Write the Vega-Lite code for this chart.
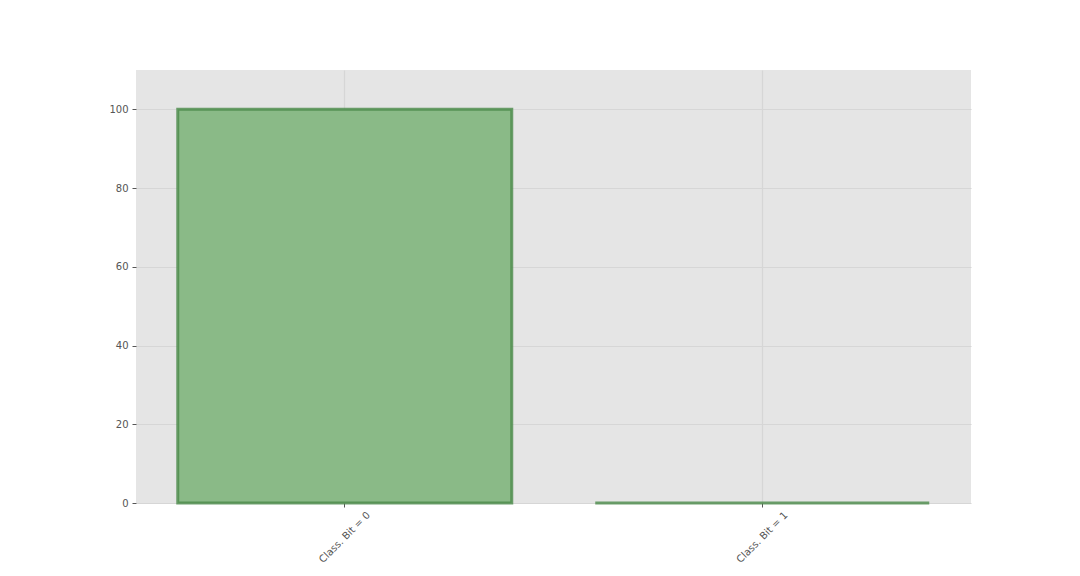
{
  "$schema": "https://vega.github.io/schema/vega-lite/v6.json",
  "autosize": "none",
  "padding": {"left": 136, "top": 70, "right": 109, "bottom": 73},
  "width": 835,
  "height": 433,
  "background": "white",
  "config": {
    "view": {"fill": "#e5e5e5", "stroke": null},
    "axis": {
      "labelFont": "DejaVu Sans",
      "labelFontSize": 10,
      "labelColor": "#555555",
      "tickColor": "#555555",
      "tickSize": 4,
      "domain": false,
      "gridColor": "#d6d6d6",
      "gridWidth": 1.2,
      "title": null
    }
  },
  "data": {
    "values": [
      {"label": "Class. Bit = 0", "count": 100},
      {"label": "Class. Bit = 1", "count": 0}
    ]
  },
  "mark": {
    "type": "bar",
    "color": "#8aba87",
    "stroke": "#4a8a48",
    "strokeWidth": 3,
    "strokeOpacity": 0.8
  },
  "encoding": {
    "x": {
      "field": "label",
      "type": "nominal",
      "sort": null,
      "scale": {"paddingInner": 0.2, "paddingOuter": 0.1},
      "axis": {"labelAngle": -45, "labelAlign": "center", "labelBaseline": "middle", "labelPadding": 30, "grid": true, "bandPosition": 0.5}
    },
    "y": {
      "field": "count",
      "type": "quantitative",
      "scale": {"domain": [0, 110], "nice": false},
      "axis": {"values": [0, 20, 40, 60, 80, 100], "labelPadding": 4}
    }
  }
}
